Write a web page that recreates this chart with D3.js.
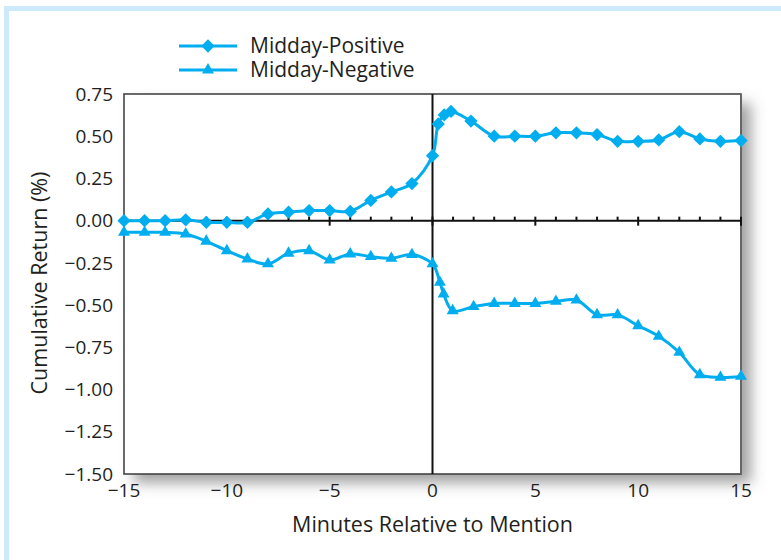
<!DOCTYPE html>
<html><head><meta charset="utf-8">
<script src="https://d3js.org/d3.v7.min.js"></script>
<style>
html,body{margin:0;padding:0;background:#fff;}
svg{display:block;font-family:"Open Sans",sans-serif;}
</style></head>
<body><svg id="c" width="781" height="560"></svg>
<script>
// ---- data ----
const posX = [-15,-14,-13,-12,-11,-10,-9,-8,-7,-6,-5,-4,-3,-2,-1,0,0.28,0.57,0.9,1.87,3,4,5,6,7,8,9,10,11,12,13,14,15];
const posY = [0.00,0.00,0.00,0.005,-0.01,-0.01,-0.01,0.04,0.05,0.06,0.06,0.055,0.12,0.17,0.22,0.385,0.573,0.626,0.647,0.59,0.50,0.50,0.50,0.52,0.52,0.51,0.47,0.47,0.478,0.527,0.484,0.47,0.474];
const negX = [-15,-14,-13,-12,-11,-10,-9,-8,-7,-6,-5,-4,-3,-2,-1,0,0.36,0.54,0.98,2,3,4,5,6,7,8,9,10,11,12,13,14,15];
const negY = [-0.069,-0.069,-0.069,-0.079,-0.122,-0.178,-0.227,-0.256,-0.193,-0.178,-0.233,-0.197,-0.213,-0.223,-0.201,-0.256,-0.365,-0.434,-0.533,-0.509,-0.49,-0.49,-0.49,-0.478,-0.47,-0.557,-0.558,-0.622,-0.685,-0.78,-0.912,-0.928,-0.922];
const seriesNames = ["Midday-Positive","Midday-Negative"];
const yTicks = [0.75,0.50,0.25,0.00,-0.25,-0.50,-0.75,-1.00,-1.25,-1.50];
const xTicks = [-15,-10,-5,0,5,10,15];
const xMinor = d3.range(-15,16,1);

// ---- layout ----
const svg = d3.select("#c");
const L=124, R=741, T=94, B=474;
const x = d3.scaleLinear().domain([-15,15]).range([L,R]);
const y = d3.scaleLinear().domain([-1.5,0.75]).range([B,T]);
const blue = "#00aeef";
const fmtNum = v => { const s = (Math.abs(v) < 1e-9 ? 0 : v); return (s<0?"\u2212":"") + Math.abs(s).toFixed(2); };
const fmtX = v => (v<0?"\u2212":"") + Math.abs(v);

// outer light blue frame
svg.append("rect").attr("x",6.5).attr("y",8.5).attr("width",900).attr("height",700)
  .attr("fill","none").attr("stroke","#cdeafa").attr("stroke-width",5);

// shadow filter
const defs = svg.append("defs");
const f = defs.append("filter").attr("id","sh").attr("x","-10%").attr("y","-10%").attr("width","130%").attr("height","130%");
f.append("feDropShadow").attr("dx",10).attr("dy",9).attr("stdDeviation",7).attr("flood-color","#555").attr("flood-opacity",0.55);

// plot background with shadow
svg.append("rect").attr("x",L).attr("y",T).attr("width",R-L).attr("height",B-T)
  .attr("fill","#fff").attr("filter","url(#sh)");
svg.append("rect").attr("x",L).attr("y",T).attr("width",R-L).attr("height",B-T)
  .attr("fill","none").attr("stroke","#3a3a3a").attr("stroke-width",1.5);
svg.append("line").attr("x1",R).attr("x2",R).attr("y1",T).attr("y2",B).attr("stroke","#666").attr("stroke-width",2);

// zero axis (horizontal) and vertical line at 0
svg.append("line").attr("x1",L).attr("x2",R).attr("y1",y(0)).attr("y2",y(0)).attr("stroke","#111").attr("stroke-width",2);
svg.append("line").attr("x1",x(0)).attr("x2",x(0)).attr("y1",T).attr("y2",B).attr("stroke","#111").attr("stroke-width",2);

// ticks on zero line
const g0 = svg.append("g");
xMinor.forEach(v => {
  const major = (v % 5 === 0);
  g0.append("line").attr("x1",x(v)).attr("x2",x(v))
    .attr("y1", y(0) - 4).attr("y2", y(0) + (major ? 5 : 0))
    .attr("stroke","#111").attr("stroke-width",2);
});

// y tick labels
svg.append("g").selectAll("text").data(yTicks).join("text")
  .attr("x", L-11).attr("y", d=>y(d)).attr("dy","0.35em").attr("text-anchor","end")
  .attr("font-size",19).attr("fill","#231f20").text(fmtNum);
// x tick labels
svg.append("g").selectAll("text").data(xTicks).join("text")
  .attr("x", d=>x(d)).attr("y", B+16).attr("dy","0.35em").attr("text-anchor","middle")
  .attr("font-size",19).attr("fill","#231f20").text(fmtX);

// axis titles
svg.append("text").attr("x",(L+R)/2).attr("y",524).attr("dy","0.35em").attr("text-anchor","middle")
  .attr("font-size",21.5).attr("fill","#231f20").text("Minutes Relative to Mention");
svg.append("text").attr("transform",`translate(39,${(T+B)/2 - 1}) rotate(-90)`).attr("dy","0.35em")
  .attr("text-anchor","middle").attr("font-size",21.5).attr("fill","#231f20").text("Cumulative Return (%)");

// lines
const line = d3.line().x(d=>x(d[0])).y(d=>y(d[1])).curve(d3.curveCatmullRom.alpha(0.5));
const posData = posX.map((v,i)=>[v,posY[i]]);
const negData = negX.map((v,i)=>[v,negY[i]]);
svg.append("path").datum(negData).attr("d",line).attr("fill","none").attr("stroke",blue).attr("stroke-width",3);
svg.append("path").datum(posData).attr("d",line).attr("fill","none").attr("stroke",blue).attr("stroke-width",3);

const diamond = d3.symbol().type(d3.symbolSquare).size(88);
const tri = d3.symbol().type(d3.symbolTriangle).size(62);
svg.append("g").selectAll("path").data(posData).join("path")
  .attr("d",diamond).attr("transform",d=>`translate(${x(d[0])},${y(d[1])}) rotate(45)`).attr("fill",blue);
svg.append("g").selectAll("path").data(negData).join("path")
  .attr("d",tri).attr("transform",d=>`translate(${x(d[0])},${y(d[1])})`).attr("fill",blue);

// legend
const lg = svg.append("g");
const legY = [46,70];
seriesNames.forEach((n,i)=>{
  lg.append("line").attr("x1",179).attr("x2",237).attr("y1",legY[i]).attr("y2",legY[i]).attr("stroke",blue).attr("stroke-width",3);
  lg.append("path").attr("d", i===0?diamond:tri)
    .attr("transform", `translate(208,${legY[i]})` + (i===0?" rotate(45)":"")).attr("fill",blue);
  lg.append("text").attr("x",250).attr("y",legY[i]).attr("dy","0.35em").attr("font-size",21).attr("fill","#231f20").text(n);
});
</script>
</body></html>
